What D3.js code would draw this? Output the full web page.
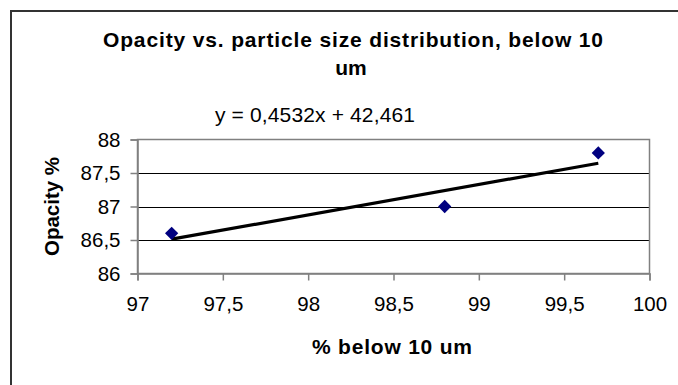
<!DOCTYPE html>
<html>
<head>
<meta charset="utf-8">
<script src="https://cdn.jsdelivr.net/npm/d3@7"></script>
<style>
  html, body { margin: 0; padding: 0; background: #fff; }
  svg { display: block; font-family: "Liberation Sans", Arial, sans-serif; }
</style>
</head>
<body>
<svg id="chart" width="678" height="385"></svg>
<script>
// Measured samples: share of particles below 10 um vs. opacity
const sizeBelow10 = [97.2, 98.8, 99.7];
const opacity = [86.6, 87.0, 87.8];

// Linear fit reported on the chart
const slope = 0.4532;
const intercept = 42.461;
const equationLabel = "y = 0,4532x + 42,461";

const xTicks = [97, 97.5, 98, 98.5, 99, 99.5, 100];
const yTicks = [86, 86.5, 87, 87.5, 88];

const titleLines = ["Opacity vs. particle size distribution, below 10", "um"];
const xTitle = "% below 10 um";
const yTitle = "Opacity %";

const svg = d3.select("#chart");

// Outer chart frame (runs off the right and bottom edges)
svg.append("rect")
  .attr("x", 11).attr("y", 11)
  .attr("width", 700).attr("height", 420)
  .attr("fill", "#fff")
  .attr("stroke", "#333").attr("stroke-width", 2);

const plot = { left: 137.5, right: 649.5, top: 139.5, bottom: 273.5 };

const x = d3.scaleLinear().domain([97, 100]).range([plot.left, plot.right]);
const y = d3.scaleLinear().domain([86, 88]).range([plot.bottom, plot.top]);

const fmt = d => String(d).replace(".", ",");

// Horizontal gridlines
svg.append("g")
  .selectAll("line")
  .data(yTicks.filter(t => t !== 86 && t !== 88))
  .join("line")
  .attr("x1", plot.left).attr("x2", plot.right)
  .attr("y1", d => Math.round(y(d)) + 0.5).attr("y2", d => Math.round(y(d)) + 0.5)
  .attr("stroke", "#000").attr("stroke-width", 1);

// Plot area border
svg.append("rect")
  .attr("x", plot.left).attr("y", plot.top)
  .attr("width", plot.right - plot.left).attr("height", plot.bottom - plot.top)
  .attr("fill", "none").attr("stroke", "#808080").attr("stroke-width", 1.5);

// Axes
const yAxis = svg.append("g")
  .attr("transform", `translate(${plot.left},0)`)
  .call(d3.axisLeft(y).tickValues(yTicks).tickFormat(fmt).tickSize(7).tickPadding(10));
const xAxis = svg.append("g")
  .attr("transform", `translate(0,${plot.bottom})`)
  .call(d3.axisBottom(x).tickValues(xTicks).tickFormat(fmt).tickSize(7).tickPadding(16));

[xAxis, yAxis].forEach(g => {
  g.select(".domain").attr("stroke", "#808080").attr("stroke-width", 1.5);
  g.selectAll(".tick line").attr("stroke", "#808080").attr("stroke-width", 1.5);
  g.selectAll(".tick text")
    .attr("fill", "#000")
    .style("font-family", '"Liberation Sans", Arial, sans-serif')
    .style("font-size", "20.5px");
});

// Trend line across the sampled range
const xs = d3.extent(sizeBelow10);
svg.append("line")
  .attr("x1", x(xs[0])).attr("y1", y(slope * xs[0] + intercept))
  .attr("x2", x(xs[1])).attr("y2", y(slope * xs[1] + intercept))
  .attr("stroke", "#000").attr("stroke-width", 3.2);

// Data markers (diamonds)
const diamond = d3.symbol().type(d3.symbolSquare).size(88);
svg.append("g")
  .selectAll("path")
  .data(sizeBelow10.map((v, i) => [v, opacity[i]]))
  .join("path")
  .attr("d", diamond)
  .attr("transform", d => `translate(${x(d[0])},${y(d[1])}) rotate(45)`)
  .attr("fill", "#000080");

// Title
svg.append("text")
  .attr("x", 103).attr("y", 47)
  .attr("textLength", 500).attr("lengthAdjust", "spacing")
  .style("font-size", "21px").style("font-weight", "bold")
  .text(titleLines[0]);
svg.append("text")
  .attr("x", 351).attr("y", 75)
  .attr("text-anchor", "middle")
  .style("font-size", "21px").style("font-weight", "bold")
  .text(titleLines[1]);

// Fit equation
svg.append("text")
  .attr("x", 215).attr("y", 122)
  .attr("textLength", 200).attr("lengthAdjust", "spacing")
  .style("font-size", "21px")
  .text(equationLabel);

// Axis titles
svg.append("text")
  .attr("x", 312).attr("y", 354)
  .attr("textLength", 160).attr("lengthAdjust", "spacing")
  .style("font-size", "21px").style("font-weight", "bold")
  .text(xTitle);

svg.append("text")
  .attr("transform", `translate(59,${(plot.top + plot.bottom) / 2}) rotate(-90)`)
  .attr("text-anchor", "middle")
  .style("font-size", "20.5px").style("font-weight", "bold")
  .text(yTitle);
</script>
</body>
</html>
